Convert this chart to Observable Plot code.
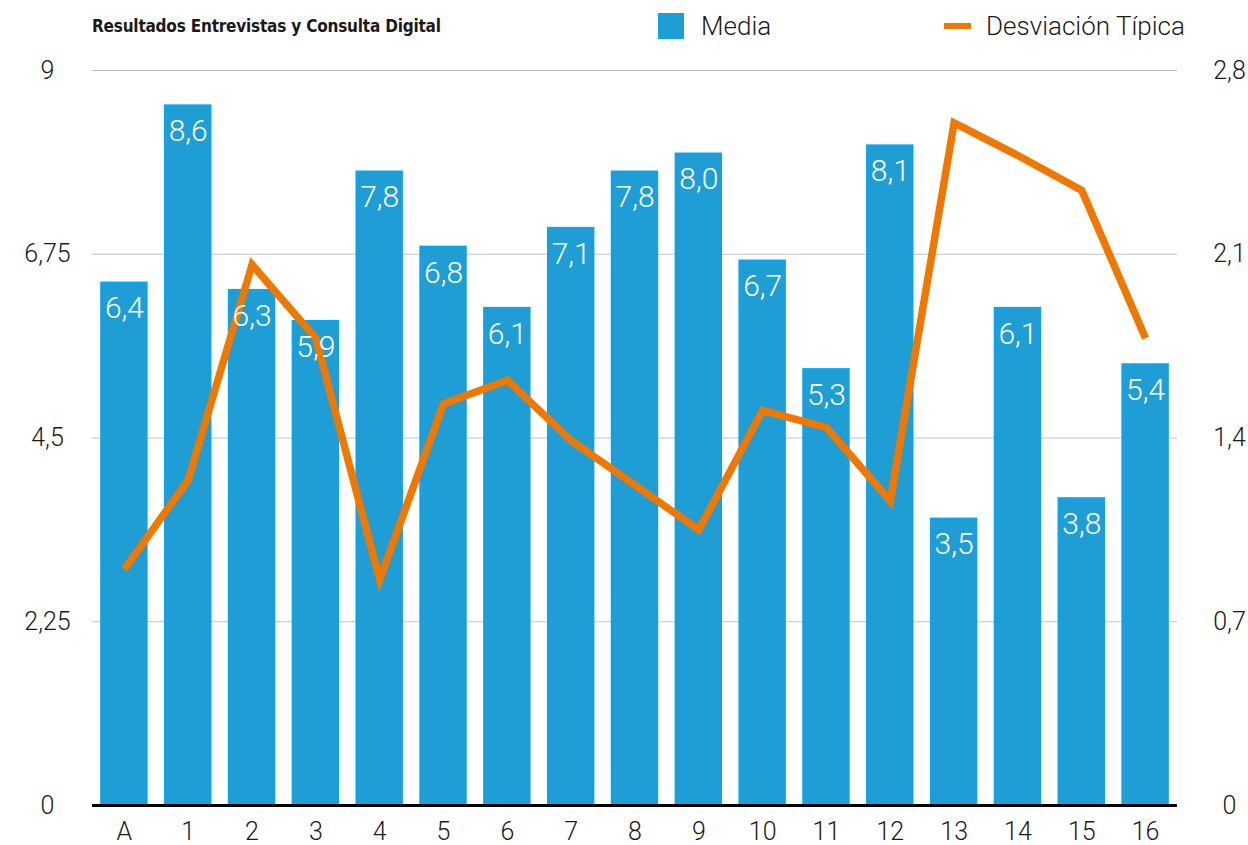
<!DOCTYPE html>
<html>
<head>
<meta charset="utf-8">
<script src="https://cdn.jsdelivr.net/npm/d3@7"></script>
<script src="https://cdn.jsdelivr.net/npm/@observablehq/plot@0.6"></script>
<style>
  body { margin: 0; background: #fff; }
  #wrap { position: relative; width: 1248px; height: 845px; font-family: "Roboto", "Liberation Sans", sans-serif; color: #1a1a1a; }
  #header { position: relative; height: 50px; }
  #title { position: absolute; left: 92px; top: 16px; font-family: "Liberation Sans Narrow", "DejaVu Sans Condensed", sans-serif; font-weight: bold; font-size: 17px; letter-spacing: -0.2px; }
  .leg { position: absolute; top: 11px; font-size: 26px; font-weight: 300; display: flex; align-items: center; }
  .sw { display: inline-block; width: 26px; height: 26px; background: #1E9ED5; border: 1.5px solid #08A4F4; box-sizing: border-box; margin-right: 17px; }
  .ln { display: inline-block; width: 27px; height: 6px; background: #F07800; margin-right: 15px; }
  #chart svg { display: block; }
</style>
</head>
<body>
<div id="wrap">
  <div id="header">
    <div id="title">Resultados Entrevistas y Consulta Digital</div>
    <div class="leg" style="left:658px"><span class="sw"></span>Media</div>
    <div class="leg" style="left:944px"><span class="ln"></span>Desviación Típica</div>
  </div>
  <div id="chart"></div>
</div>
<script>
const categories = ["A","1","2","3","4","5","6","7","8","9","10","11","12","13","14","15","16"];
const media = [6.40, 8.57, 6.31, 5.93, 7.76, 6.84, 6.09, 7.07, 7.76, 7.98, 6.67, 5.34, 8.08, 3.51, 6.09, 3.76, 5.40];
const desviacion = [0.90, 1.24, 2.06, 1.78, 0.86, 1.53, 1.62, 1.39, 1.22, 1.05, 1.505, 1.44, 1.16, 2.60, 2.476, 2.343, 1.78];
const leftTicks = [0, 2.25, 4.5, 6.75, 9];
const rightTicks = [0, 0.7, 1.4, 2.1, 2.8];
const leftMax = 9, rightMax = 2.8;

const comma = v => String(v).replace(".", ",");
const rows = categories.map((c, i) => ({cat: c, media: media[i], sd: desviacion[i]}));
const toLeft = v => v * leftMax / rightMax;

const chart = Plot.plot({
  width: 1248,
  height: 795,
  marginTop: 20,
  marginBottom: 40,
  marginLeft: 92,
  marginRight: 71,
  style: {fontFamily: "Roboto, 'Liberation Sans', sans-serif", fontSize: "24px", color: "#1a1a1a", background: "#fff"},
  x: {domain: categories, paddingInner: 0.28, paddingOuter: 0.14, round: false, axis: null},
  y: {domain: [0, leftMax], axis: null},
  marks: [
    Plot.ruleY(leftTicks.filter(d => d > 0), {stroke: "#c2c2c2", strokeWidth: 1.2}),
    Plot.barY(rows, {x: "cat", y: "media", fill: "#1E9ED5", stroke: "#08A4F4", strokeWidth: 1.5}),
    Plot.ruleY([0], {stroke: "#000", strokeWidth: 3}),
    Plot.line(rows, {x: "cat", y: d => toLeft(d.sd), stroke: "#F07800", strokeWidth: 7.5, strokeLinejoin: "miter", strokeLinecap: "butt", strokeMiterlimit: 10}),
    Plot.text(rows, {x: "cat", y: "media", text: d => d.media.toFixed(1).replace(".", ","), fill: "#fff", fontSize: 30, fontWeight: 300, dy: 26, lineAnchor: "middle"}),
    Plot.text(categories, {x: d => d, frameAnchor: "bottom", dy: 26, text: d => d, fontSize: 25, fontWeight: 300, fill: "#1a1a1a", lineAnchor: "middle"}),
    Plot.text(leftTicks, {y: d => d, frameAnchor: "left", dx: -45, text: d => comma(d), textAnchor: "middle", lineAnchor: "middle", fontSize: 25, fontWeight: 300, fill: "#1a1a1a"}),
    Plot.text(rightTicks, {y: d => toLeft(d), frameAnchor: "right", dx: 52, text: d => comma(d), textAnchor: "middle", lineAnchor: "middle", fontSize: 25, fontWeight: 300, fill: "#1a1a1a"})
  ]
});
document.getElementById("chart").appendChild(chart);
</script>
</body>
</html>
